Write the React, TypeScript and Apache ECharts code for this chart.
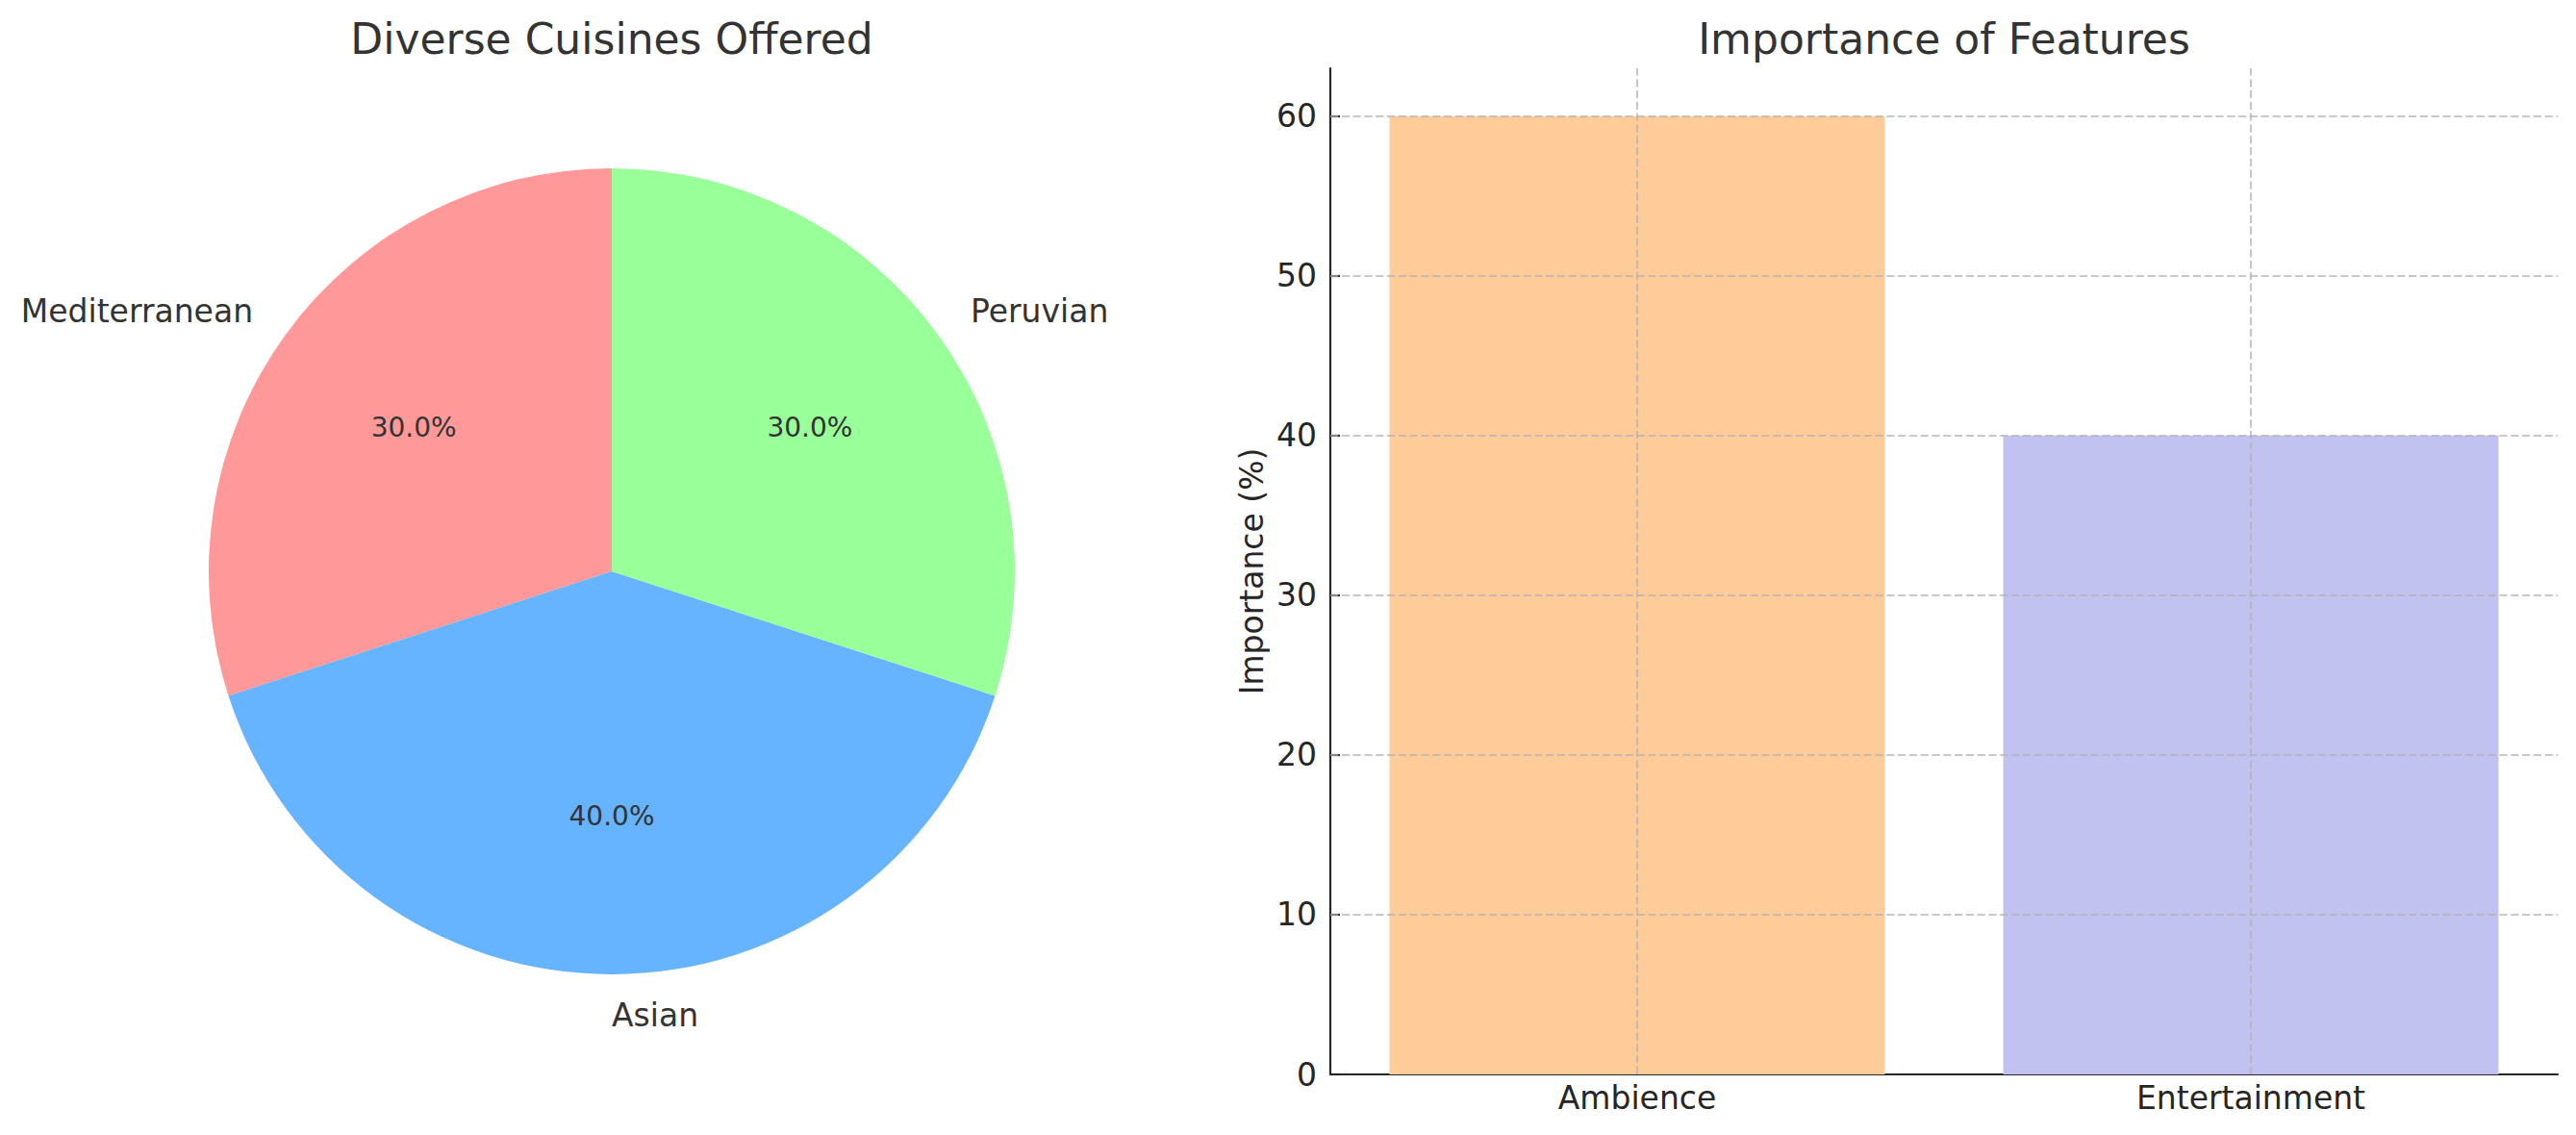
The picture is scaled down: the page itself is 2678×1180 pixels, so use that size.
import React, { useEffect, useRef } from "react";
import * as echarts from "echarts";

const cuisines = ["Mediterranean", "Asian", "Peruvian"];
const cuisineShares = [30, 40, 30];
const pieColors = ["#ff9999", "#66b3ff", "#99ff99"];

const features = ["Ambience", "Entertainment"];
const importance = [60, 40];
const barColors = ["#ffcc99", "#c2c2f0"];
const yTicks = [0, 10, 20, 30, 40, 50, 60];

const FONT = "DejaVu Sans";

export default function App() {
  const ref = useRef<HTMLDivElement>(null);
  useEffect(() => {
    document.body.style.margin = "0";
    if (!ref.current) return;
    const chart = echarts.init(ref.current, undefined, { renderer: "svg" });
    const total = cuisineShares.reduce((a, b) => a + b, 0);
    const cx = 636;
    const cy = 594;
    const r = 419;
    const gridStyle = { color: "#b0b0b0", opacity: 0.7, width: 2.2, type: [8.2, 3.6] as any };
    chart.setOption({
      animation: false,
      backgroundColor: "#ffffff",
      textStyle: { fontFamily: FONT },
      graphic: [
        {
          type: "text",
          x: cx,
          y: 40,
          style: { text: "Diverse Cuisines Offered", fill: "#333333", fontSize: 44, fontFamily: FONT, align: "center", verticalAlign: "middle" },
        },
        {
          type: "text",
          x: 2021,
          y: 40,
          style: { text: "Importance of Features", fill: "#333333", fontSize: 44, fontFamily: FONT, align: "center", verticalAlign: "middle" },
        },
      ],
      grid: { left: 1383, right: 19, top: 71, bottom: 63, containLabel: false },
      xAxis: {
        type: "category",
        data: features,
        boundaryGap: true,
        axisLine: { show: true, lineStyle: { color: "#262626", width: 2.2 } },
        axisTick: { show: true, inside: true, alignWithLabel: true, length: 10, lineStyle: { color: "#262626", width: 2.2 } },
        axisLabel: { fontSize: 33, color: "#262626", fontFamily: FONT, margin: 8 },
        splitLine: { show: false },
      },
      yAxis: {
        type: "value",
        min: 0,
        max: 63,
        interval: 10,
        name: "Importance (%)",
        nameLocation: "middle",
        nameGap: 65,
        nameTextStyle: { fontSize: 33, color: "#262626", fontFamily: FONT },
        axisLine: { show: true, lineStyle: { color: "#262626", width: 2.2 } },
        axisTick: { show: true, inside: true, length: 10, lineStyle: { color: "#262626", width: 2.2 }, customValues: yTicks },
        axisLabel: { fontSize: 33, color: "#262626", fontFamily: FONT, margin: 14, customValues: yTicks },
        splitLine: { show: false },
      },
      series: [
        {
          type: "pie",
          center: [cx, cy],
          radius: r,
          startAngle: 90,
          clockwise: false,
          avoidLabelOverlap: false,
          silent: true,
          label: { show: true, position: "outside", fontSize: 33, color: "#333333", fontFamily: FONT, distanceToLabelLine: 0 },
          labelLine: { show: false, length: 42, length2: 0 },
          emphasis: { disabled: true },
          data: cuisines.map((c, i) => ({ name: c, value: cuisineShares[i], itemStyle: { color: pieColors[i] } })),
        },
        {
          type: "pie",
          center: [cx, cy],
          radius: [84, r],
          startAngle: 90,
          clockwise: false,
          avoidLabelOverlap: false,
          silent: true,
          itemStyle: { color: "rgba(0,0,0,0)" },
          label: {
            show: true,
            position: "inside",
            fontSize: 28,
            color: "#333333",
            fontFamily: FONT,
            formatter: (p: any) => ((p.value / total) * 100).toFixed(1) + "%",
          },
          labelLine: { show: false },
          emphasis: { disabled: true },
          data: cuisines.map((c, i) => ({ name: c, value: cuisineShares[i] })),
        },
        {
          type: "bar",
          barWidth: 515,
          silent: true,
          data: importance.map((v, i) => ({ value: v, itemStyle: { color: barColors[i] } })),
          markLine: {
            silent: true,
            symbol: "none",
            label: { show: false },
            lineStyle: gridStyle,
            emphasis: { disabled: true },
            data: [
              ...yTicks.filter((v) => v !== 0).map((v) => ({ yAxis: v })),
              ...features.map((f) => ({ xAxis: f })),
            ],
          },
        },
      ],
    });
    return () => chart.dispose();
  }, []);
  return <div ref={ref} style={{ width: 2678, height: 1180 }} />;
}
